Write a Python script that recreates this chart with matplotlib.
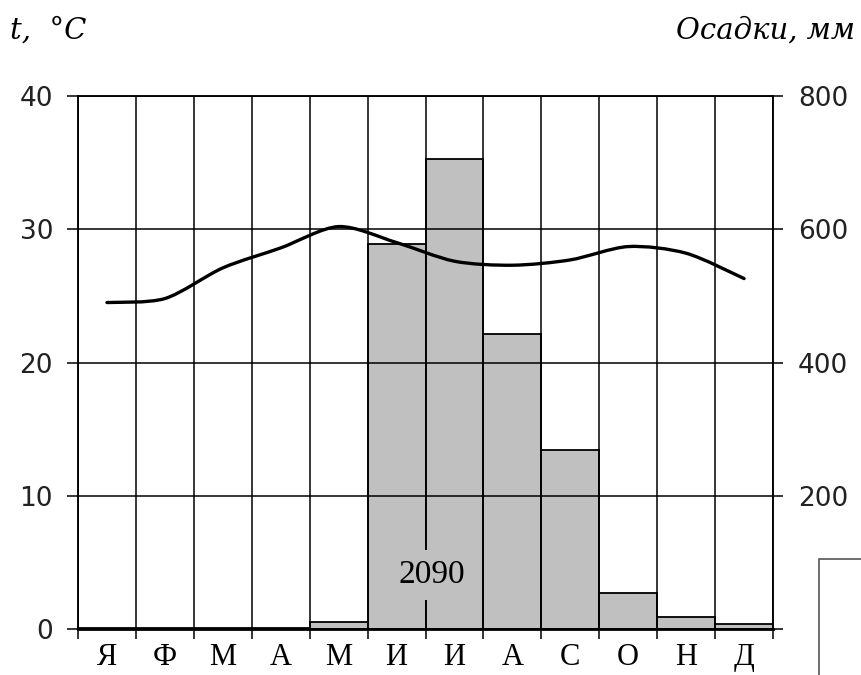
# Климатограмма: температура и осадки по месяцам
import numpy as np
import matplotlib.pyplot as plt
from matplotlib.path import Path
from matplotlib.patches import PathPatch, Rectangle

months = ['Я', 'Ф', 'М', 'А', 'М', 'И', 'И', 'А', 'С', 'О', 'Н', 'Д']
temp = [24.5, 24.8, 27.1, 28.6, 30.2, 29.0, 27.6, 27.3, 27.7, 28.7, 28.2, 26.3]
precip = [2, 2, 2, 2, 10, 578, 705, 443, 269, 54, 18, 8]
total = '2090'

fig = plt.figure(figsize=(8.62, 6.75), dpi=100)
ax = fig.add_axes([0.0905, 0.0681, 0.8063, 0.7897])
ax2 = ax.twinx()
ax.set_zorder(ax2.get_zorder() + 1)
ax.patch.set_visible(False)

x = np.arange(len(months)) + 0.5

# осадки - столбцы
ax2.bar(x, precip, width=1.0, color='#c0c0c0', edgecolor='black', linewidth=1.3, zorder=1)
ax2.set_ylim(0, 800)
ax2.set_yticks([0, 200, 400, 600, 800])
ax2.set_yticklabels(['', '200', '400', '600', '800'])

# температура - сглаженная линия (кривые Безье через точки)
pts = np.column_stack([x, temp])
verts = [pts[0]]
codes = [Path.MOVETO]
n = len(pts)
for i in range(n - 1):
    p0 = pts[max(i - 1, 0)]
    p1 = pts[i]
    p2 = pts[i + 1]
    p3 = pts[min(i + 2, n - 1)]
    verts += [p1 + (p2 - p0) / 7, p2 - (p3 - p1) / 7, p2]
    codes += [Path.CURVE4] * 3
ax.add_patch(PathPatch(Path(verts, codes), facecolor='none', edgecolor='black',
                       linewidth=2.4, zorder=5, capstyle='round'))

ax.set_xlim(0, 12)
ax.set_ylim(0, 40)
ax.set_yticks([0, 10, 20, 30, 40])
ax.set_xticks(np.arange(0, 13))
ax.set_xticklabels([])
ax.set_xticks(x, minor=True)
ax.set_xticklabels(months, minor=True, fontsize=22, family='Liberation Serif')
ax.grid(True, which='major', color='black', linewidth=1.1, zorder=3)

ax.tick_params(axis='x', which='major', direction='out', length=7, width=1.1)
ax.tick_params(axis='x', which='minor', length=0, pad=10)
ax.tick_params(axis='y', direction='out', length=8, width=1.1, pad=10,
               labelsize=19, labelcolor='#222222')
ax2.tick_params(axis='y', direction='out', length=7, width=1.1, pad=11,
                labelsize=19, labelcolor='#222222')
for a in (ax, ax2):
    for s in a.spines.values():
        s.set_linewidth(1.1)
ax.spines['bottom'].set_linewidth(2)

ax.text(0.509, 0.101, total, transform=ax.transAxes, ha='center', va='center',
        fontsize=24, family='Liberation Serif', zorder=6,
        bbox=dict(facecolor='#c0c0c0', edgecolor='none', pad=7))

fig.text(0.012, 0.955, 't,  °C', fontsize=21, style='italic', family='DejaVu Serif',
         ha='left', va='center')
fig.text(0.992, 0.955, 'Осадки, мм', fontsize=21, style='italic', family='DejaVu Serif',
         ha='right', va='center')

fig.add_artist(Rectangle((0.950, -0.05), 0.2, 0.222, transform=fig.transFigure,
                         facecolor='white', edgecolor='#555555', linewidth=1.2))

fig.savefig('out.png', dpi=100)
